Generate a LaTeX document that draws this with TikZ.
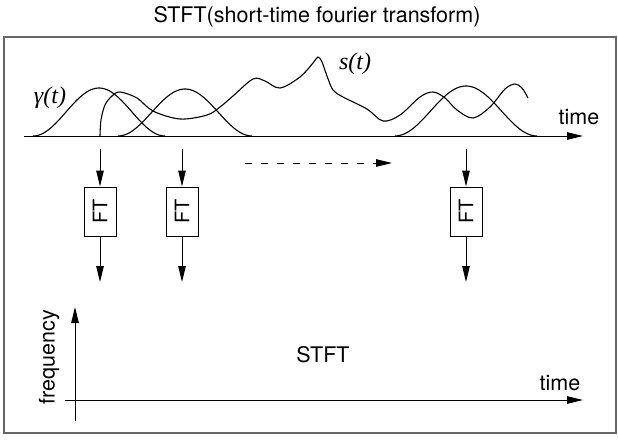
\documentclass[tikz,border=0pt]{standalone}
\usepackage{fontspec}
\setmainfont{TeX Gyre Heros}
\newfontfamily\sigfont{Liberation Serif}
\usetikzlibrary{arrows.meta}

\begin{document}
\begin{tikzpicture}[x=1pt, y=-1pt,
      lbl/.style={font=\fontsize{21.5}{25}\selectfont, inner sep=0pt},
      sig/.style={font=\fontsize{24}{28}\selectfont\sigfont\itshape, inner sep=0pt},
      ftbox/.style={draw, line width=1pt, rotate=90, minimum width=49pt, minimum height=32pt,
                    inner sep=0pt, font=\fontsize{20}{23}\selectfont},
      arr/.style={-{Triangle[length=16pt, width=7.5pt]}, line width=1pt},
      curve/.style={line width=1.1pt}]
    \useasboundingbox (0,0) rectangle (618,440);
    \draw[line width=1.5pt, black!60] (4,37) rectangle (616,433);
    \node[lbl] (title) at (317,17) {STFT(short-time fourier transform)};

    \coordinate (t0) at (24,136);
    \coordinate (t1) at (583,136);
    \draw[arr] (t0) -- (t1);
    \node[lbl] (time) at (579,117) {time};

    \draw[curve] plot[domain=-66:66, samples=60] ({99+\x}, {136-24*(1+cos(180*\x/66))});
    \draw[curve] plot[domain=-67:67, samples=60] ({185+\x}, {136-23.5*(1+cos(180*\x/67))});
    \draw[curve] plot[domain=-71:71, samples=60] ({466+\x}, {136-25*(1+cos(180*\x/71))});
    \draw[curve] plot[smooth, tension=0.55] coordinates {(100,136) (101,120) (105,105) (112,96)
        (120,92) (137,98) (153,111) (180,119) (207,115) (220,107) (233,96) (253,79) (265,81)
        (280,88) (300,77) (313,63) (318,57) (322,62) (327,76) (333,90) (343,97) (367,109)
        (383,121) (400,115) (420,97) (433,92) (445,98) (457,110) (473,118) (490,107)
        (505,89) (515,84) (522,88) (528,98)};
    \node[sig] (gamma) at (50,98) {γ(t)};
    \node[sig] (sig) at (355,64) {s(t)};

    \foreach \n/\xx in {1/100, 2/182, 3/466} {
      \coordinate (in\n) at (\xx,149);
      \node[ftbox] (ft\n) at (\xx,211.5) {FT};
      \coordinate (out\n) at (\xx,282);
      \draw[arr] (in\n) -- (ft\n);
      \draw[arr] (ft\n) -- (out\n);
    }

    \coordinate (d0) at (245,163);
    \coordinate (d1) at (392,163);
    \draw[arr, dash pattern=on 7pt off 9pt] (d0) -- (d1);

    \coordinate (f0) at (75,421);
    \coordinate (f1) at (75,307);
    \coordinate (b0) at (65,400);
    \coordinate (b1) at (583,400);
    \draw[arr] (f0) -- (f1);
    \draw[arr] (b0) -- (b1);
    \node[lbl, rotate=90] (freq) at (49,357) {frequency};
    \node[lbl] (stft) at (323,355) {STFT};
    \node[lbl] (time2) at (560,383) {time};
  \end{tikzpicture}
\end{document}
